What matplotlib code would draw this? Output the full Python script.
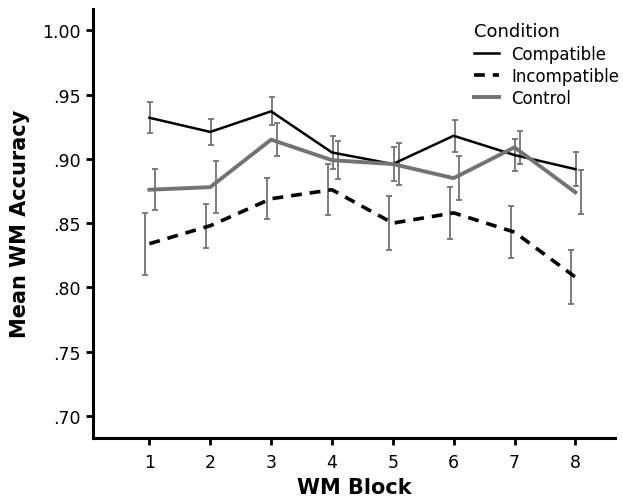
import numpy as np
import matplotlib.pyplot as plt

blocks = [1, 2, 3, 4, 5, 6, 7, 8]

compatible = [0.932, 0.921, 0.937, 0.905, 0.896, 0.918, 0.903, 0.892]
compatible_err = [0.012, 0.010, 0.011, 0.0125, 0.013, 0.0125, 0.0125, 0.013]

incompatible = [0.834, 0.848, 0.869, 0.876, 0.850, 0.858, 0.843, 0.808]
incompatible_err = [0.024, 0.017, 0.016, 0.020, 0.021, 0.020, 0.020, 0.021]

control = [0.876, 0.878, 0.915, 0.899, 0.896, 0.885, 0.909, 0.874]
control_err = [0.016, 0.020, 0.013, 0.015, 0.016, 0.017, 0.013, 0.017]

yticks = [0.70, 0.75, 0.80, 0.85, 0.90, 0.95, 1.00]
ytick_labels = [".70", ".75", ".80", ".85", ".90", ".95", "1.00"]

plt.rcParams['font.family'] = ['DejaVu Sans']

fig = plt.figure(figsize=(6.23, 5.02), dpi=100)
ax = fig.add_axes([0.149, 0.126, 0.838, 0.855])

x = np.array(blocks)
gray = "#737373"
err_kw = dict(fmt="none", ecolor=gray, elinewidth=1.3, capsize=2.5, capthick=1.3)

ax.errorbar(x - 0.065, incompatible, yerr=incompatible_err, **err_kw)
ax.errorbar(x + 0.015, compatible, yerr=compatible_err, **err_kw)
ax.errorbar(x + 0.095, control, yerr=control_err, **err_kw)

ax.plot(x, compatible, color="black", lw=1.8, label="Compatible")
ax.plot(x, incompatible, color="black", lw=2.6, ls=(0, (3, 2.2)), label="Incompatible")
ax.plot(x, control, color=gray, lw=2.8, label="Control")

ax.set_xlim(0.07, 8.65)
ax.set_ylim(0.683, 1.017)
ax.set_xticks(blocks)
ax.set_yticks(yticks)
ax.set_yticklabels(ytick_labels)
ax.tick_params(labelsize=12.5, width=2, length=5, color="black")
ax.tick_params(axis="x", pad=6)

for side in ["top", "right"]:
    ax.spines[side].set_visible(False)
for side in ["left", "bottom"]:
    ax.spines[side].set_linewidth(2.2)

ax.set_xlabel("WM Block", fontsize=15, fontweight="bold", labelpad=4)
ax.set_ylabel("Mean WM Accuracy", fontsize=15, fontweight="bold", labelpad=9)

leg = ax.legend(title="Condition", loc="upper right", bbox_to_anchor=(1.03, 0.995),
                frameon=False, fontsize=12, title_fontsize=13,
                handlelength=1.5, handletextpad=0.7, labelspacing=0.25,
                borderaxespad=0.3)
leg._legend_box.align = "left"

fig.savefig("out.png", dpi=100)
